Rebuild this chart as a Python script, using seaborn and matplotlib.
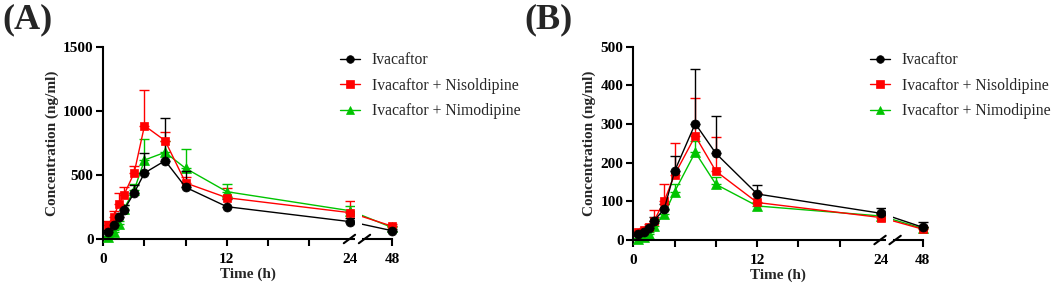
import numpy as np
import pandas as pd
import matplotlib
matplotlib.use('Agg')
import matplotlib.pyplot as plt
import seaborn as sns

# ---------------- data ----------------
time_h = [0.5, 1, 1.5, 2, 3, 4, 6, 8, 12, 24, 48]
series_labels = ['Ivacaftor', 'Ivacaftor + Nisoldipine', 'Ivacaftor + Nimodipine']

# Panel A
a_iva_mean = [57, 112, 172, 226, 361, 515, 611, 403, 252, 135, 65]
a_iva_sd = [15, 25, 30, 40, 60, 153, 335, 127, 60, 25, 15]
a_nis_mean = [109, 174, 270, 343, 517, 884, 767, 437, 322, 205, 100]
a_nis_sd = [30, 48, 87, 61, 51, 278, 65, 50, 73, 90, 15]
a_nim_mean = [18, 57, 117, 234, 382, 616, 676, 551, 369, 220, 90]
a_nim_sd = [5, 10, 20, 30, 50, 161, 90, 148, 60, 37, 10]

# Panel B
b_iva_mean = [15.5, 20, 30, 50, 80, 178, 301, 224, 119, 69, 33]
b_iva_sd = [3, 4, 6, 10, 12, 40, 141, 97, 22, 13, 13]
b_nis_mean = [20, 26, 34, 49, 101, 169, 269, 178, 97, 58, 28]
b_nis_sd = [4, 6, 8, 29, 44, 81, 99, 89, 24, 8, 6]
b_nim_mean = [3, 7, 16, 36, 66, 125, 227, 144, 88, 62, 30]
b_nim_sd = [2, 3, 5, 8, 12, 20, 30, 20, 8, 6, 4]

a_yticks = [0, 500, 1000, 1500]
b_yticks = [0, 100, 200, 300, 400, 500]
x_ticks = [0, 4, 8, 12, 16, 20, 24, 48]
x_ticklabels = ['0', '', '', '12', '', '', '24', '48']

# ---------------- style ----------------
sns.set_theme(style='ticks')
plt.rcParams['font.family'] = ['Liberation Serif', 'DejaVu Serif']
plt.rcParams['axes.linewidth'] = 1.5

colors = ['#000000', '#ff0000', '#00c400']
markers = ['o', 's', '^']
msizes = [6.5, 6, 6.5]

K = 0.168  # compression of the 24-48 h segment
def fwd(x):
    x = np.asarray(x, dtype=float)
    return np.where(x <= 24, x, 24 + (x - 24) * K)
def inv(t):
    t = np.asarray(t, dtype=float)
    return np.where(t <= 24, t, 24 + (t - 24) / K)

fig = plt.figure(figsize=(10.52, 2.92), dpi=100)
W, H = 1052, 292
axA = fig.add_axes([103.3 / W, 53 / H, 288.7 / W, 192.3 / H])
axB = fig.add_axes([633.3 / W, 52 / H, 289.4 / W, 193.3 / H])

def draw_panel(ax, means, sds, yticks, letter, letter_x, legend_x):
    # draw order: green, red, black on top
    for i in [2, 1, 0]:
        df = pd.DataFrame({'Time': time_h, 'Conc': means[i]})
        eb = ax.errorbar(time_h, means[i], yerr=[np.zeros(len(sds[i])), sds[i]],
                         fmt='none', ecolor=colors[i], elinewidth=1.0,
                         capsize=3.5, capthick=1.0, zorder=1.8 + 0.1 * (2 - i))
        for c in eb.lines[1]:
            c.set_clip_on(False)
        for c in eb.lines[2]:
            c.set_clip_on(False)
        sns.lineplot(data=df, x='Time', y='Conc', ax=ax, color=colors[i],
                     marker=markers[i], markersize=msizes[i],
                     markeredgecolor=colors[i], markeredgewidth=0.5,
                     linewidth=1.0, errorbar=None, label=series_labels[i],
                     zorder=2.0 + 0.1 * (2 - i))
    for ln in ax.lines:
        ln.set_clip_on(False)
    ax.set_xscale('function', functions=(fwd, inv))
    ax.set_xlim(0, 48)
    ax.set_ylim(0, yticks[-1])
    ax.set_xticks(x_ticks)
    ax.set_xticklabels(x_ticklabels)
    ax.xaxis.set_minor_locator(matplotlib.ticker.NullLocator())
    ax.set_yticks(yticks)
    ax.set_yticklabels([str(v) for v in yticks])
    ax.tick_params(axis='both', which='major', length=5, width=1.5,
                   labelsize=11, colors='black')
    ax.tick_params(axis='y', pad=2)
    ax.tick_params(axis='x', pad=5)
    for lab in ax.get_xticklabels() + ax.get_yticklabels():
        lab.set_fontweight('bold')
    ax.xaxis.get_major_ticks()[6].tick1line.set_visible(False)
    for s in ['top', 'right']:
        ax.spines[s].set_visible(False)
    ax.spines['left'].set_color('black')
    ax.spines['bottom'].set_color('black')
    ax.set_xlabel('Time (h)', fontsize=11, fontweight='bold', labelpad=1)
    ax.set_ylabel('Concentration (ng/ml)', fontsize=11, fontweight='bold', labelpad=3)

    # axis break
    tr = ax.get_xaxis_transform()
    gap0, gap1 = float(inv(24.44)), float(inv(25.15))
    ax.axvspan(gap0, gap1, ymin=-0.035, ymax=1.0, facecolor='white',
               edgecolor='none', zorder=2.7, clip_on=False)
    for c in [23.9, 25.36]:
        x0, x1 = float(inv(c - 0.55)), float(inv(c + 0.55))
        ax.plot([x0, x1], [-0.022, 0.022], transform=tr, color='black',
                lw=1.5, clip_on=False, zorder=2.8)

    # legend
    h, l = ax.get_legend_handles_labels()
    order = [l.index(s) for s in series_labels]
    leg = ax.legend([h[j] for j in order], [l[j] for j in order],
                    loc='upper left', bbox_to_anchor=(legend_x / W, 1 - 52 / H),
                    bbox_transform=fig.transFigure, frameon=False,
                    fontsize=11.3, handlelength=1.3, handletextpad=0.72,
                    labelspacing=0.62, borderpad=0, borderaxespad=0)
    for lh in leg.legend_handles:
        lh.set_markersize(5.5)

    fig.text(letter_x / W, 1 - 3 / H, letter, fontsize=26, fontweight='bold',
             ha='left', va='top')

draw_panel(axA, [a_iva_mean, a_nis_mean, a_nim_mean], [a_iva_sd, a_nis_sd, a_nim_sd],
           a_yticks, '(A)', 2, 340)
draw_panel(axB, [b_iva_mean, b_nis_mean, b_nim_mean], [b_iva_sd, b_nis_sd, b_nim_sd],
           b_yticks, '(B)', 524, 870)

fig.savefig('out.png', dpi=100)
